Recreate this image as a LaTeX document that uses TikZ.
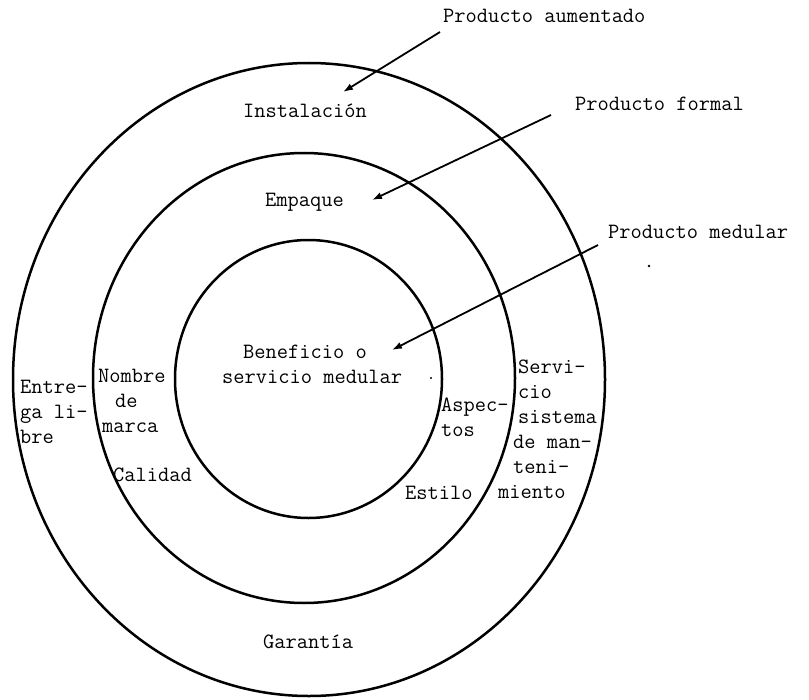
\documentclass[tikz,border=0pt]{standalone}
\usepackage{fontspec}
\usetikzlibrary{arrows.meta}
\begin{document}
\begin{tikzpicture}[x=1bp,y=-1bp,
  ring/.style={line width=2.5bp},
  pointer/.style={line width=1.8bp,-{Latex[length=10bp,width=7bp]}},
  lbl/.style={inner sep=0pt,font=\ttfamily\fontsize{21.9}{25}\selectfont},
  blk/.style={lbl,align=left,anchor=north west},
  speck/.style={fill=black}]
\useasboundingbox[fill=white] (0,0) rectangle (809,700);
% rings
\draw[ring] (309,379.5) ellipse [x radius=296, y radius=316.5];
\draw[ring] (304,378) ellipse [x radius=211, y radius=225];
\draw[ring] (308.5,379) ellipse [x radius=133.5, y radius=139];
% outer labels
\node[lbl,anchor=base west] (aum) at (443,23) {Producto aumentado};
\node[lbl,anchor=base west] (for) at (575,111) {Producto formal};
\node[lbl,anchor=base west] (med) at (608,238) {Producto medular};
% ring labels
\node[lbl,anchor=base west] (inst) at (243,118) {Instalación};
\node[lbl,anchor=base west] (emp) at (265,206) {Empaque};
\node[lbl,anchor=base west] (gar) at (263,648) {Garantía};
\node[lbl,anchor=base west] (cal) at (113,481) {Calidad};
\node[lbl,anchor=base west] (est) at (405,499) {Estilo};
\node[blk] (ben) at (222,345) {\hspace*{21bp}Beneficio o\\servicio medular};
\node[blk] (nom) at (98,369) {Nombre\\\hspace*{17bp}de\\\hspace*{4bp}marca};
\node[blk] (ent) at (20,380) {Entre-\\ga li-\\bre};
\node[blk] (asp) at (441,398) {Aspec-\\tos};
\node[blk] (ser) at (518,360) {Servi-\\cio\\sistema\\\hspace*{-5bp}de man-\\\hspace*{-5bp}teni-\\\hspace*{-20bp}miento};
% arrows
\coordinate (a1s) at (440,32);
\coordinate (a1e) at (343,92);
\coordinate (a2s) at (551,115);
\coordinate (a2e) at (372,200);
\coordinate (a3s) at (598,245);
\coordinate (a3e) at (392,350);
\draw[pointer] (a1s) -- (a1e);
\draw[pointer] (a2s) -- (a2e);
\draw[pointer] (a3s) -- (a3e);
% specks
\fill[speck] (649,266) circle (1.3);
\fill[speck] (431,378) circle (1.1);
\end{tikzpicture}
\end{document}
